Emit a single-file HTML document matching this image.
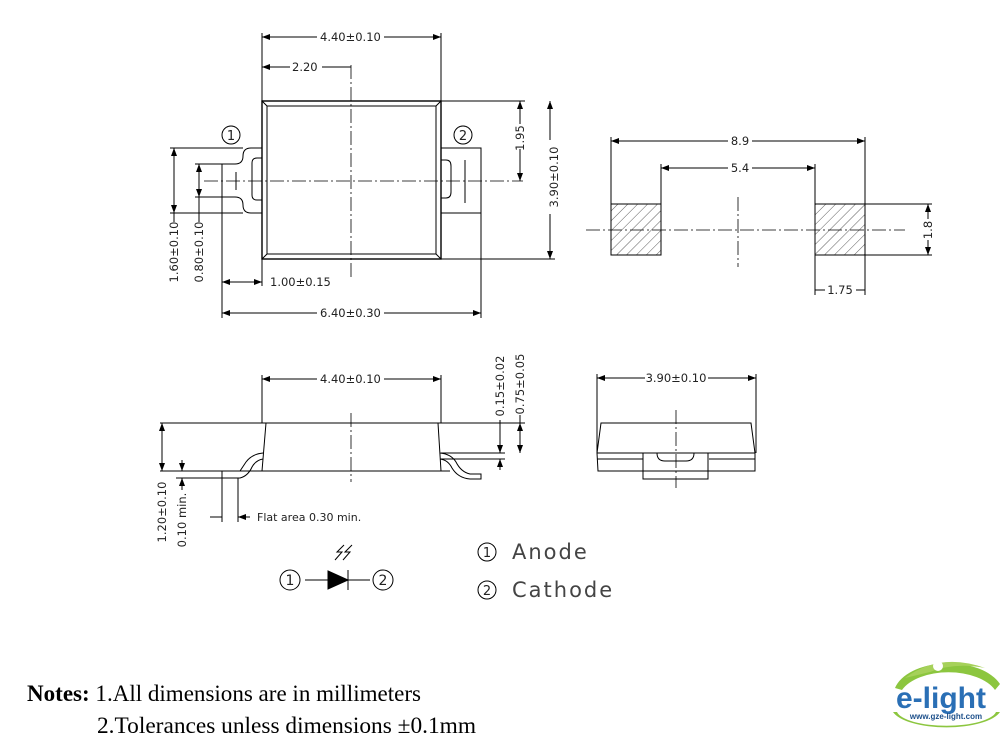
<!DOCTYPE html>
<html><head><meta charset="utf-8"><style>
html,body{margin:0;padding:0;background:#fff;width:1008px;height:741px;overflow:hidden}
svg{display:block}
.d{font-family:"DejaVu Sans","Liberation Sans",sans-serif;font-size:11.5px;fill:#222}
</style></head><body>
<svg width="1008" height="741" viewBox="0 0 1008 741" xmlns="http://www.w3.org/2000/svg">
<defs>
<marker id="a" markerWidth="8" markerHeight="6" refX="8" refY="3" orient="auto-start-reverse" markerUnits="userSpaceOnUse"><path d="M0,0 L8,3 L0,6 z" fill="#000"/></marker>
<pattern id="h" width="7" height="7" patternUnits="userSpaceOnUse" patternTransform="rotate(45)"><line x1="0" y1="0" x2="0" y2="7" stroke="#333" stroke-width="0.8"/></pattern>
</defs>
<g stroke="#000" stroke-width="1" fill="none">
<rect x="262" y="101" width="179" height="158" stroke-width="1.4"/>
<rect x="267" y="106" width="169" height="148"/>
<path d="M262 101L267 106M441 101L436 106M262 259L267 254M441 259L436 254"/>
<path d="M262 148H251Q243 148 243 156Q243 164 235 164H222V197H235Q243 197 243 205Q243 213 251 213H262"/>
<path d="M262 158H257Q252 158 252 163V195Q252 200 257 200H262"/>
<line x1="236" y1="172" x2="236" y2="190"/>
<path d="M441 148H481V213H441"/>
<path d="M441 160H446Q451 160 451 166V192Q451 198 446 198H441"/>
<line x1="465" y1="160" x2="465" y2="203"/>
<line x1="351" y1="65" x2="351" y2="280" stroke-dasharray="14,3,2,3" stroke-width="0.8"/>
<line x1="204" y1="181" x2="523" y2="181" stroke-dasharray="14,3,2,3" stroke-width="0.8"/>
<path d="M262 33V101M441 33V101M441 101H525M441 259H555M170 148H243M170 213H243M195 164H222M195 197H222M222 197V318M262 259V286M481 213V318"/>
<path d="M262 37H317M384 37H441" marker-start="url(#a)" marker-end="url(#a)"/>
<path d="M262 67H290M322 67H351" marker-start="url(#a)"/>
<path d="M520 101V124M520 149V181" marker-start="url(#a)" marker-end="url(#a)"/>
<path d="M550 101V140M550 214V259" marker-start="url(#a)" marker-end="url(#a)"/>
<line x1="174" y1="148" x2="174" y2="213" marker-start="url(#a)" marker-end="url(#a)"/>
<line x1="174" y1="213" x2="174" y2="222"/>
<line x1="199" y1="164" x2="199" y2="197" marker-start="url(#a)" marker-end="url(#a)"/>
<line x1="199" y1="197" x2="199" y2="222"/>
<line x1="222" y1="282" x2="262" y2="282" marker-start="url(#a)" marker-end="url(#a)"/>
<path d="M222 313H317M384 313H481" marker-start="url(#a)" marker-end="url(#a)"/>
<circle cx="231" cy="135" r="9"/>
<circle cx="463" cy="135" r="9"/>
<rect x="611" y="204" width="50" height="51" fill="url(#h)"/>
<rect x="815" y="204" width="50" height="51" fill="url(#h)"/>
<line x1="586" y1="230" x2="905" y2="230" stroke-dasharray="14,3,2,3" stroke-width="0.8"/>
<line x1="738" y1="197" x2="738" y2="267" stroke-dasharray="14,3,2,3" stroke-width="0.8"/>
<path d="M611 137V204M865 137V295M661 164V204M815 164V295M865 204H932M865 255H932"/>
<path d="M611 141H728M752 141H865" marker-start="url(#a)" marker-end="url(#a)"/>
<path d="M661 168H728M752 168H815" marker-start="url(#a)" marker-end="url(#a)"/>
<path d="M928 204V219M928 240V255" marker-start="url(#a)" marker-end="url(#a)"/>
<path d="M815 290H825M856 290H865"/>
<path d="M266 423H438L441 471H262Z"/>
<path d="M160 423H266M438 423H525M160 471H262M441 471H450"/>
<line x1="351" y1="413" x2="351" y2="482" stroke-dasharray="14,3,2,3" stroke-width="0.8"/>
<path d="M262 375V423M441 375V423"/>
<path d="M262 379H317M384 379H441" marker-start="url(#a)" marker-end="url(#a)"/>
<path d="M263 453Q252 454 246 462L240 471H222V478H240Q248 476 252 467Q256 460 263 459"/>
<path d="M440 453Q451 454 456 462Q461 472 470 474H481V479H470Q458 478 452 468Q448 460 440 459"/>
<path d="M441 453H505M441 459H505"/>
<line x1="162" y1="423" x2="162" y2="471" marker-start="url(#a)" marker-end="url(#a)"/>
<path d="M176 478H222M182 460V471M182 478V490"/>
<line x1="182" y1="465" x2="182" y2="471" marker-end="url(#a)"/>
<line x1="182" y1="484" x2="182" y2="478" marker-end="url(#a)"/>
<path d="M222 478V522M238 478V522"/>
<path d="M210 517H222M250 517H238" marker-end="url(#a)"/>
<line x1="500" y1="430" x2="500" y2="453" marker-end="url(#a)"/>
<line x1="500" y1="470" x2="500" y2="459" marker-end="url(#a)"/>
<line x1="500" y1="420" x2="500" y2="430"/>
<line x1="520" y1="423" x2="520" y2="453" marker-start="url(#a)" marker-end="url(#a)"/>
<line x1="520" y1="415" x2="520" y2="423"/>
<path d="M601 423H751L755 453V471H598L597 453Z"/>
<path d="M597 453H755M597 459H643M709 459H755"/>
<path d="M643 453V479H708V453"/>
<path d="M657 453Q657 461 665 461H686Q694 461 694 453"/>
<path d="M597 374V453M756 374V453"/>
<path d="M597 378H645M708 378H756" marker-start="url(#a)" marker-end="url(#a)"/>
<line x1="676" y1="410" x2="676" y2="488" stroke-dasharray="14,3,2,3" stroke-width="0.8"/>
<circle cx="290" cy="580" r="10"/>
<circle cx="383" cy="580" r="10"/>
<path d="M305 580H370M348 570V590"/>
<path d="M328 571L348 580L328 589Z" fill="#000"/>
<path d="M344 545L337 552H342L335 560M352 545L345 552H350L343 560"/>
<circle cx="487" cy="552" r="9"/>
<circle cx="487" cy="590" r="9"/>
</g>
<g class="d">
<text x="320" y="41">4.40±0.10</text>
<text x="292" y="71">2.20</text>
<text x="523" y="137" transform="rotate(-90 524 137)" text-anchor="middle">1.95</text>
<text x="554" y="177" transform="rotate(-90 554 177)" text-anchor="middle" dy="4">3.90±0.10</text>
<text x="174" y="252" transform="rotate(-90 174 252)" text-anchor="middle" dy="4">1.60±0.10</text>
<text x="199" y="252" transform="rotate(-90 199 252)" text-anchor="middle" dy="4">0.80±0.10</text>
<text x="270" y="286">1.00±0.15</text>
<text x="320" y="317">6.40±0.30</text>
<text x="231" y="140" text-anchor="middle" font-size="13">1</text>
<text x="463" y="140" text-anchor="middle" font-size="13">2</text>
<text x="740" y="145" text-anchor="middle">8.9</text>
<text x="740" y="172" text-anchor="middle">5.4</text>
<text x="928" y="230" transform="rotate(-90 928 230)" text-anchor="middle" dy="4">1.8</text>
<text x="840" y="294" text-anchor="middle">1.75</text>
<text x="320" y="383">4.40±0.10</text>
<text x="162" y="512" transform="rotate(-90 162 512)" text-anchor="middle" dy="4">1.20±0.10</text>
<text x="182" y="520" transform="rotate(-90 182 520)" text-anchor="middle" dy="4">0.10 min.</text>
<text x="257" y="521" font-size="11">Flat area 0.30 min.</text>
<text x="500" y="386" transform="rotate(-90 500 386)" text-anchor="middle" dy="4">0.15±0.02</text>
<text x="520" y="384" transform="rotate(-90 520 384)" text-anchor="middle" dy="4">0.75±0.05</text>
<text x="676" y="382" text-anchor="middle">3.90±0.10</text>
<text x="290" y="585" text-anchor="middle" font-size="14">1</text>
<text x="383" y="585" text-anchor="middle" font-size="14">2</text>
<text x="487" y="557" text-anchor="middle" font-size="13">1</text>
<text x="487" y="595" text-anchor="middle" font-size="13">2</text>
<text x="512" y="559" font-size="21" letter-spacing="2" fill="#444">Anode</text>
<text x="512" y="597" font-size="21" letter-spacing="2" fill="#444">Cathode</text>
</g>
<g font-family="Liberation Serif,serif" font-size="23" fill="#000">
<text x="27" y="701" textLength="394" lengthAdjust="spacingAndGlyphs"><tspan font-weight="bold">Notes:</tspan> 1.All dimensions are in millimeters</text>
<text x="97" y="733" textLength="379" lengthAdjust="spacingAndGlyphs">2.Tolerances unless dimensions  ±0.1mm</text>
</g>
<g>
<path d="M895 688 A55 32 0 0 1 1000 684 L995 690 A50 28 0 0 0 902 690 Z" fill="#8cc63f"/>
<path d="M905 678 Q940 652 985 668 Q955 662 930 672 Z" fill="#a6d15a"/>
<circle cx="938" cy="666" r="5" fill="#fff"/>
<path d="M893 712 A55 20 0 0 0 1000 712 L996 712 A50 16 0 0 1 897 712Z" fill="#8cc63f"/>
<text x="941" y="708" text-anchor="middle" font-family="Liberation Sans,sans-serif" font-weight="bold" font-size="30" fill="#2a6fb5">e-light</text>
<text x="946" y="719" text-anchor="middle" font-family="Liberation Sans,sans-serif" font-weight="bold" font-size="8" fill="#1c4f8a">www.gze-light.com</text>
</g>
</svg>
</body></html>
